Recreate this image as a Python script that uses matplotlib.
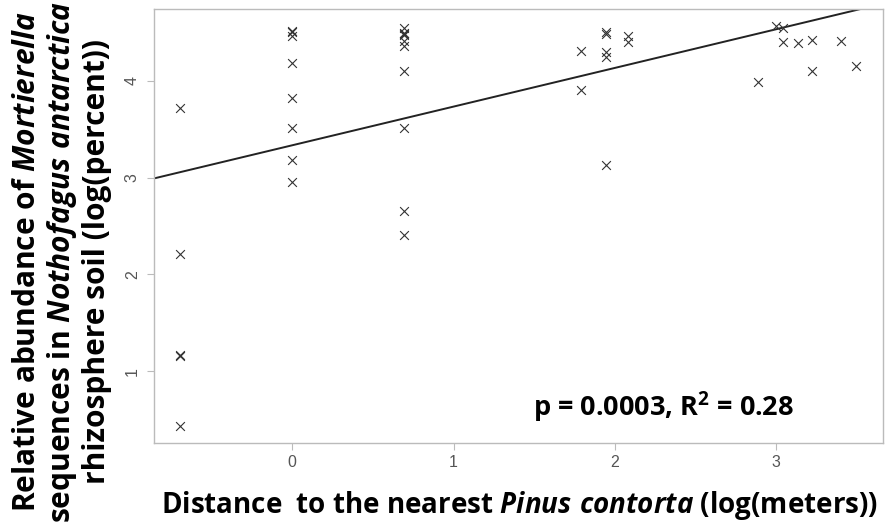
import matplotlib
matplotlib.use("Agg")
import matplotlib.pyplot as plt
import numpy as np

# log(distance in m) for each sample and log(percent Mortierella)
dist_log = [
    -0.693, -0.693, -0.693, -0.693, -0.693,
    0, 0, 0, 0, 0, 0, 0, 0,
    0.693, 0.693, 0.693, 0.693, 0.693, 0.693, 0.693, 0.693, 0.693, 0.693,
    1.792, 1.792,
    1.946, 1.946, 1.946, 1.946, 1.946,
    2.079, 2.079,
    2.890, 2.996, 3.045, 3.045, 3.135, 3.219, 3.219, 3.401, 3.497,
]
abund_log = [
    3.72, 2.21, 1.17, 1.16, 0.43,
    4.52, 4.51, 4.47, 4.19, 3.82, 3.51, 3.18, 2.96,
    4.55, 4.50, 4.49, 4.48, 4.41, 4.36, 4.10, 3.51, 2.66, 2.41,
    4.31, 3.91,
    4.51, 4.49, 4.30, 4.25, 3.13,
    4.46, 4.40,
    3.99, 4.57, 4.55, 4.40, 4.39, 4.42, 4.10, 4.41, 4.15,
]

# fitted line
fit_intercept = 3.335
fit_slope = 0.40

x_ticks = [0, 1, 2, 3]
y_ticks = [1, 2, 3, 4]
stats_text = r"p = 0.0003, R$^2$ = 0.28"

plt.rcParams['mathtext.fontset'] = 'custom'
plt.rcParams['mathtext.rm'] = 'Open Sans:bold'
plt.rcParams['mathtext.bf'] = 'Open Sans:bold'
plt.rcParams['mathtext.it'] = 'Open Sans:italic:bold'

fig = plt.figure(figsize=(8.89, 5.23), dpi=100)
ax = fig.add_axes([0.1729, 0.1535, 0.820, 0.8287])

ax.scatter(dist_log, abund_log, marker='x', s=40, color='#333333', linewidths=0.8, zorder=3)

xlim = (-0.859, 3.66)
ylim = (0.259, 4.741)
xs = np.array(xlim)
ax.plot(xs, fit_intercept + fit_slope * xs, color='#222222', linewidth=1.4)
ax.set_xlim(xlim)
ax.set_ylim(ylim)

for s in ax.spines.values():
    s.set_color('#bbbbbb')
    s.set_linewidth(1.0)

ax.set_xticks(x_ticks)
ax.set_yticks(y_ticks)
ax.tick_params(axis='both', colors='#bbbbbb', length=5, width=0.8, direction='out')
ax.tick_params(axis='x', labelcolor='#555555', labelsize=11.5, pad=4)
ax.tick_params(axis='y', labelcolor='#555555', labelsize=11.5, pad=5)
for lab in ax.get_xticklabels():
    lab.set_fontfamily('Liberation Sans')
for lab in ax.get_yticklabels():
    lab.set_fontfamily('Liberation Sans')
    lab.set_rotation(90)
    lab.set_va('center')

fig.text(520 / 889, 1 - 505 / 523,
         r"Distance  to the nearest $\mathit{Pinus\ contorta}$ (log(meters))",
         ha='center', va='center', fontsize=20, fontweight='bold', fontfamily='Open Sans')
fig.text(62 / 889, 1 - 262 / 523,
         "Relative abundance of $\\mathit{Mortierella}$\n"
         "sequences in $\\mathit{Nothofagus\\ antarctica}$\n"
         "rhizosphere soil (log(percent))",
         rotation=90, ha='center', va='center', multialignment='center',
         fontsize=21.5, fontweight='bold', fontfamily='Open Sans', linespacing=1.12)

ax.text(0.699, 0.082, stats_text, transform=ax.transAxes, ha='center', va='center',
        fontsize=19.5, fontweight='bold', fontfamily='Open Sans')

fig.savefig("out.png", dpi=100)
